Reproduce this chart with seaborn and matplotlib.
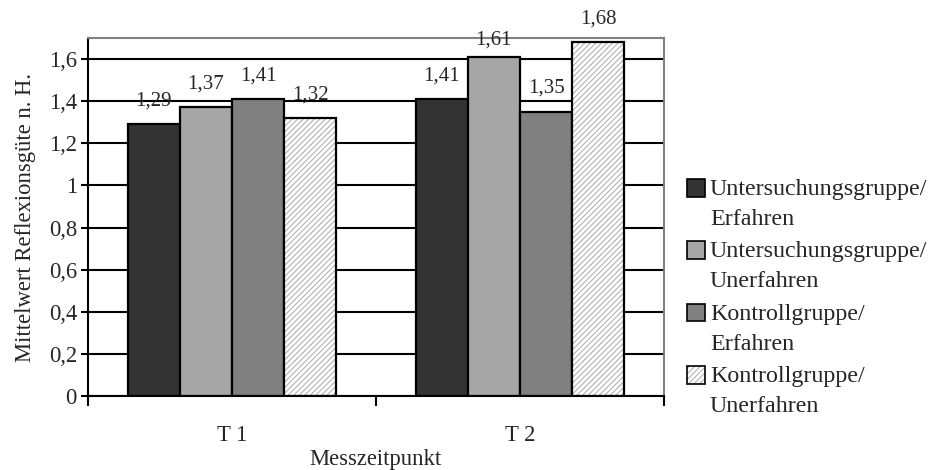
import matplotlib
matplotlib.use("Agg")
import matplotlib.pyplot as plt
import seaborn as sns
import pandas as pd
from matplotlib.patches import Patch, Rectangle
from matplotlib.legend_handler import HandlerPatch
from matplotlib.colors import to_rgba

categories = ["T 1", "T 2"]
groups = ["Untersuchungsgruppe/\nErfahren", "Untersuchungsgruppe/\nUnerfahren",
          "Kontrollgruppe/\nErfahren", "Kontrollgruppe/\nUnerfahren"]
ug_erfahren = [1.29, 1.41]
ug_unerfahren = [1.37, 1.61]
kg_erfahren = [1.41, 1.35]
kg_unerfahren = [1.32, 1.68]
yticks = [0, 0.2, 0.4, 0.6, 0.8, 1.0, 1.2, 1.4, 1.6]

series = [ug_erfahren, ug_unerfahren, kg_erfahren, kg_unerfahren]
rows = []
for g, vals in zip(groups, series):
    for c, v in zip(categories, vals):
        rows.append({"Messzeitpunkt": c, "Gruppe": g, "Wert": v})
df = pd.DataFrame(rows)

sns.set_theme(style="white")
plt.rcParams["font.family"] = ["Liberation Serif", "DejaVu Serif"]
plt.rcParams["hatch.linewidth"] = 0.7

colors = ["#333333", "#a6a6a6", "#808080", "#ffffff"]
hatches = ["", "", "", "//////"]
hatch_col = "#a8a8a8"
FS = 16.3

fig = plt.figure(figsize=(9.32, 4.70), dpi=100)
ax = fig.add_axes([88/932, 1 - 396/470, (664-88)/932, (396-38)/470])

sns.barplot(data=df, x="Messzeitpunkt", y="Wert", hue="Gruppe", hue_order=groups,
            order=categories, palette=colors, width=0.725, ax=ax,
            edgecolor="black", linewidth=1.6, legend=False, saturation=1)


def style_patch(p, i):
    p.set_facecolor(colors[i])
    p.set_edgecolor("black")
    if hatches[i]:
        p.set_hatch(hatches[i])
        if hasattr(p, "set_hatchcolor"):
            p.set_hatchcolor(hatch_col)
        else:
            p._hatch_color = to_rgba(hatch_col)


for i, cont in enumerate(ax.containers):
    for bar in cont:
        style_patch(bar, i)
    labels = [f"{v:.2f}".replace(".", ",") for v in series[i]]
    anns = ax.bar_label(cont, labels=labels, padding=10, fontsize=15)
    if i == 1:
        # the 1,61 label sits closer to its bar in the reference
        anns[1].xyann = (anns[1].xyann[0], 5)

ax.set_ylim(0, 1.7)
ax.set_xlim(-0.5, 1.5)
ax.set_yticks(yticks)
ax.set_yticklabels([("%g" % t).replace(".", ",") for t in yticks], fontsize=FS)
ax.yaxis.grid(True, color="black", linewidth=1.5)
ax.set_axisbelow(True)

ax.set_xticks([-0.5, 0.5, 1.5])
ax.set_xticklabels(["", "", ""])
ax.set_xticks([0, 1], minor=True)
ax.set_xticklabels(categories, minor=True, fontsize=FS)
ax.tick_params(axis="x", which="minor", length=0, pad=21)
ax.tick_params(axis="x", which="major", length=7, width=1.5, color="black", direction="out", bottom=True)
ax.tick_params(axis="y", length=5, width=1.5, color="black", direction="out", left=True, pad=3)

for s in ["left", "bottom"]:
    ax.spines[s].set_color("black")
    ax.spines[s].set_linewidth(1.5)
for s in ["top", "right"]:
    ax.spines[s].set_color("#808080")
    ax.spines[s].set_linewidth(1.5)

ax.set_xlabel("Messzeitpunkt", fontsize=FS, labelpad=2)
ax.set_ylabel("Mittelwert Reflexionsgüte n. H.", fontsize=FS, labelpad=9)

LFS = 17.3


def top_square(legend, orig_handle, xdescent, ydescent, width, height, fontsize):
    return Rectangle((-xdescent, -ydescent + 0.68 * fontsize), width, height)


handles = []
for i in range(4):
    h = Patch(linewidth=1.2)
    style_patch(h, i)
    handles.append(h)
leg = fig.legend(handles, groups, loc="center left", bbox_to_anchor=(687/932, 1 - 298/470),
                 frameon=False, fontsize=LFS, handlelength=0.75, handleheight=0.75,
                 handletextpad=0.2, labelspacing=0.48, borderaxespad=0, borderpad=0,
                 handler_map={Patch: HandlerPatch(patch_func=top_square)})
for t in leg.get_texts():
    t.set_linespacing(1.55)

fig.savefig("out.png", dpi=100)
